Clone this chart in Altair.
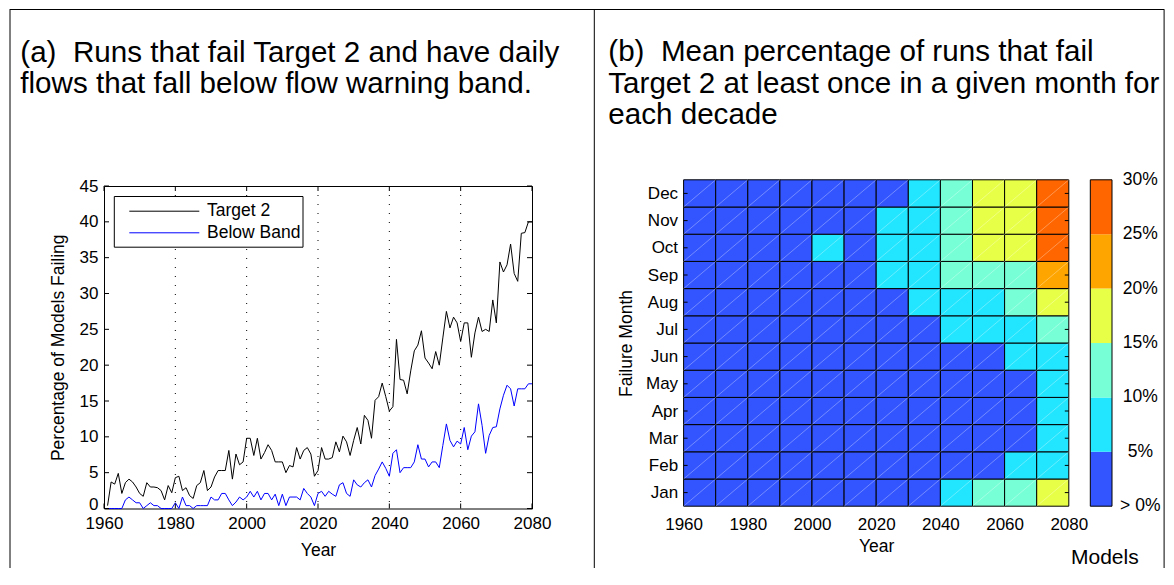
import json
import altair as alt
import pandas as pd

# ---------------- data ----------------
years = list(range(1961, 2081))
target2 = [
    0.4, 3.7, 3.4, 4.9, 2.1, 3.6, 4.1, 3.7, 3.0, 2.1,
    1.7, 3.6, 3.0, 3.0, 2.9, 2.5, 1.2, 3.2, 2.2, 4.3,
    4.5, 2.5, 2.9, 1.8, 1.4, 3.2, 3.6, 5.3, 2.5, 3.0,
    4.4, 5.3, 5.3, 5.3, 8.1, 4.1, 7.6, 6.1, 6.5, 9.8,
    9.8, 7.4, 9.8, 6.9, 7.8, 8.9, 8.1, 6.5, 6.5, 6.5,
    5.0, 6.0, 5.8, 8.5, 6.9, 8.1, 8.5, 7.6, 4.5, 5.3,
    8.5, 6.9, 6.9, 7.1, 9.3, 7.9, 10.1, 9.3, 7.4, 9.5,
    11.3, 9.0, 13.0, 12.3, 9.8, 15.1, 15.6, 17.5, 15.6, 13.6,
    14.2, 23.6, 18.0, 17.9, 16.0, 19.2, 22.0, 22.8, 24.8, 21.0,
    20.3, 19.5, 21.9, 20.0, 23.8, 27.5, 25.2, 26.7, 25.9, 23.3,
    25.9, 25.9, 21.1, 24.5, 26.7, 24.7, 25.0, 24.7, 29.1, 25.9,
    34.4, 33.0, 34.0, 36.9, 32.8, 31.7, 38.4, 38.5, 40.0, 40.0,
]
below_band = [
    0.0, 0.0, 0.0, 0.0, 0.0, 1.2, 1.6, 1.2, 0.8, 0.8,
    0.0, 0.4, 0.8, 0.4, 0.4, 0.0, 0.0, 0.0, 0.0, 0.8,
    0.0, 1.6, 0.4, 0.4, 0.0, 0.4, 0.4, 0.4, 0.4, 1.6,
    1.2, 1.2, 2.1, 2.1, 1.2, 0.4, 0.9, 1.6, 1.2, 1.6,
    2.4, 1.6, 2.4, 1.2, 2.1, 2.1, 1.2, 2.0, 0.4, 2.0,
    0.4, 1.6, 1.6, 1.6, 1.2, 2.8, 2.1, 1.6, 0.4, 2.1,
    2.4, 1.7, 2.4, 2.0, 1.7, 3.3, 3.6, 2.1, 1.7, 4.0,
    3.3, 3.0, 3.6, 4.0, 3.0, 4.6, 5.5, 6.5, 5.6, 4.5,
    7.7, 8.2, 5.0, 5.7, 5.7, 5.7, 6.5, 8.9, 6.9, 6.9,
    5.8, 6.5, 6.5, 5.7, 8.8, 11.8, 9.5, 8.6, 9.4, 9.0,
    11.3, 8.2, 10.1, 10.7, 14.6, 11.6, 7.7, 10.2, 11.3, 11.4,
    13.9, 15.8, 17.2, 16.7, 14.3, 16.7, 16.7, 16.7, 17.4, 17.4,
]
series_names = ["Target 2", "Below Band"]
series_colors = ["#000000", "#0000ff"]
year_ticks = [1960, 1980, 2000, 2020, 2040, 2060, 2080]
grid_years = [1980, 2000, 2020, 2040, 2060]
pct_ticks = [0, 5, 10, 15, 20, 25, 30, 35, 40, 45]

months = ["Jan", "Feb", "Mar", "Apr", "May", "Jun",
          "Jul", "Aug", "Sep", "Oct", "Nov", "Dec"]
decades = [1960, 1970, 1980, 1990, 2000, 2010, 2020, 2030, 2040, 2050, 2060, 2070]
jan = [0.5, 0.6, 0.8, 1.0, 1.5, 1.8, 2.5, 3.5, 6.5, 11.0, 12.5, 16.5]
feb = [0.3, 0.4, 0.5, 0.8, 1.0, 1.2, 1.5, 2.0, 3.0, 4.0, 6.0, 8.5]
mar = [0.2, 0.3, 0.4, 0.5, 0.7, 0.9, 1.2, 1.8, 2.5, 3.5, 4.5, 7.0]
apr = [0.2, 0.2, 0.3, 0.4, 0.6, 0.8, 1.0, 1.5, 2.2, 3.0, 4.2, 6.5]
may = [0.2, 0.3, 0.4, 0.5, 0.8, 1.0, 1.4, 2.0, 2.8, 3.8, 4.6, 7.5]
jun = [0.3, 0.4, 0.6, 0.9, 1.2, 1.6, 2.2, 3.0, 3.8, 4.6, 6.5, 9.0]
jul = [0.5, 0.7, 1.0, 1.4, 2.0, 2.6, 3.5, 4.5, 6.0, 7.5, 9.0, 11.5]
aug = [0.8, 1.0, 1.5, 2.0, 2.8, 3.5, 4.6, 6.0, 8.0, 9.5, 11.5, 16.0]
sep = [1.0, 1.3, 1.8, 2.5, 3.8, 4.2, 5.5, 8.0, 11.0, 12.5, 14.5, 21.5]
oct_ = [1.2, 1.6, 2.2, 3.0, 5.2, 4.5, 6.5, 9.0, 12.5, 16.0, 18.5, 26.0]
nov = [1.0, 1.4, 2.0, 2.8, 4.0, 4.4, 6.0, 8.5, 12.0, 15.5, 18.0, 26.5]
dec = [0.8, 1.2, 1.6, 2.2, 3.5, 4.0, 4.6, 7.0, 11.0, 15.5, 17.5, 27.0]
heat_rows = [jan, feb, mar, apr, may, jun, jul, aug, sep, oct_, nov, dec]

cbar_edges = [0, 5, 10, 15, 20, 25, 30]
cbar_labels = ["> 0%", "5%", "10%", "15%", "20%", "25%", "30%"]
cbar_colors = ["#3355ff", "#22e5ff", "#77ffd5", "#e8ff48", "#ffa500", "#ff6600"]

title_a = ["(a)\u00a0 Runs that fail Target 2 and have daily",
           "flows that fall below flow warning band."]
title_b = ["(b)\u00a0 Mean percentage of runs that fail",
           "Target 2 at least once in a given month for",
           "each decade"]

# ---------------- styling constants ----------------
FONT = "Liberation Sans"
TITLE_FS = 29.6
AX_FS = 17
W1, H1 = 428, 322.5
W2, H2 = 385.2, 320.2
R0, R1 = 320.2, -6.2
TOP = -176.5        # top frame line, relative to plot tops
BOT = 382           # bottom end of vertical frame lines
one = pd.DataFrame({"k": [0]})

# ---------------- left panel ----------------
df_lines = pd.DataFrame({
    "year": years + years,
    "pct": target2 + below_band,
    "series": [series_names[0]] * len(years) + [series_names[1]] * len(years),
})
xs = alt.Scale(domain=[year_ticks[0], year_ticks[-1]], nice=False, zero=False)
ys = alt.Scale(domain=[pct_ticks[0], pct_ticks[-1]], nice=False, zero=False)
x_axis = alt.Axis(values=year_ticks, format="d", tickSize=0, domain=False, grid=False,
                  labelFontSize=AX_FS, labelPadding=7, labelFlush=False, labelOverlap=False,
                  title="Year", titleFontSize=17.5, titlePadding=10)
y_axis = alt.Axis(values=pct_ticks, tickSize=0, domain=False, grid=False,
                  labelFontSize=AX_FS, labelPadding=6, labelOverlap=False,
                  labelOffset={"condition": {"test": "datum.value == 0", "value": -4},
                               "value": 0},
                  title="Percentage of Models Failing", titleFontSize=17.5, titlePadding=12)

lines = alt.Chart(df_lines).mark_line(strokeWidth=1).encode(
    x=alt.X("year:Q", scale=xs, axis=x_axis),
    y=alt.Y("pct:Q", scale=ys, axis=y_axis),
    color=alt.Color("series:N", scale=alt.Scale(domain=series_names, range=series_colors),
                    legend=None),
)

grid = alt.Chart(pd.DataFrame({"g": grid_years})).mark_rule(
    color="black", strokeDash=[1, 8], strokeWidth=1).encode(
    x=alt.X("g:Q", scale=xs, axis=x_axis), y=alt.value(0), y2=alt.value(H1))

yt_df = pd.DataFrame({"v": pct_ticks})
xt_df = pd.DataFrame({"t": year_ticks})
ytl = alt.Chart(yt_df).mark_rule(color="black").encode(
    y=alt.Y("v:Q", scale=ys, axis=y_axis), x=alt.value(0), x2=alt.value(5))
ytr = alt.Chart(yt_df).mark_rule(color="black").encode(
    y=alt.Y("v:Q", scale=ys, axis=y_axis), x=alt.value(W1 - 5), x2=alt.value(W1))
xtb = alt.Chart(xt_df).mark_rule(color="black").encode(
    x=alt.X("t:Q", scale=xs, axis=x_axis), y=alt.value(H1 - 5), y2=alt.value(H1))
xtt = alt.Chart(xt_df).mark_rule(color="black").encode(
    x=alt.X("t:Q", scale=xs, axis=x_axis), y=alt.value(0), y2=alt.value(5))

# legend (box, line samples, labels)
leg_box = alt.Chart(one).mark_rect(fill="white", stroke="black", strokeWidth=1).encode(
    x=alt.value(10.3), x2=alt.value(199), y=alt.value(10.5), y2=alt.value(61.2))
leg_items = []
for name, col, yy in zip(series_names, series_colors, [25.2, 46.8]):
    leg_items.append(alt.Chart(one).mark_rule(color=col, strokeWidth=1).encode(
        x=alt.value(25.3), x2=alt.value(95.3), y=alt.value(yy)))
    leg_items.append(alt.Chart(one).mark_text(text=name, align="left", baseline="middle",
                                              fontSize=17.5, color="black").encode(
        x=alt.value(103), y=alt.value(yy)))

frame_top = alt.Chart(one).mark_rule(color="black", strokeWidth=1).encode(
    x=alt.value(-94.3), x2=alt.value(1060.3), y=alt.value(TOP))
frame_left = alt.Chart(one).mark_rule(color="black", strokeWidth=1).encode(
    x=alt.value(-94), y=alt.value(TOP), y2=alt.value(BOT))

ta = [alt.Chart(one).mark_text(text=t, align="left", baseline="alphabetic",
                                fontSize=TITLE_FS, color="black").encode(
    x=alt.value(-83.7), y=alt.value(yy)) for t, yy in zip(title_a, [-124.5, -93.5])]

left = alt.layer(frame_top, frame_left, *ta, grid, lines, ytl, ytr, xtb, xtt,
                 leg_box, *leg_items).properties(
    width=W1, height=H1, view=alt.ViewBackground(stroke="black", strokeWidth=1))

# ---------------- right panel ----------------
hx = alt.Scale(domain=[year_ticks[0], year_ticks[-1]], nice=False, zero=False)
hy = alt.Scale(domain=[0.5, 12.5], range=[R0, R1], nice=False, zero=False)
cy = alt.Scale(domain=[cbar_edges[0], cbar_edges[-1]], range=[R0, R1], nice=False, zero=False)
cs = alt.Scale(type="threshold", domain=cbar_edges[1:-1], range=cbar_colors)

rows = []
for mi, m in enumerate(months):
    for di, d in enumerate(decades):
        rows.append({"month": m, "x0": d, "x1": d + 10,
                     "y0": mi + 0.5, "y1": mi + 1.5, "val": heat_rows[mi][di]})
df_heat = pd.DataFrame(rows)
label_expr = json.dumps(months) + "[datum.value - 1]"

hx_axis = alt.Axis(values=year_ticks, format="d", tickSize=0, domain=False, grid=False,
                   labelFontSize=AX_FS, labelPadding=10, labelFlush=False, labelOverlap=False,
                   title="Year", titleFontSize=17.5, titlePadding=5)
hy_axis = alt.Axis(values=list(range(1, 13)), labelExpr=label_expr, tickSize=0, domain=False,
                   grid=False, labelFontSize=AX_FS, labelPadding=6, labelOverlap=False,
                   title="Failure Month", titleFontSize=17.5, titlePadding=10)

rect = alt.Chart(df_heat).mark_rect(stroke="black", strokeWidth=1).encode(
    x=alt.X("x0:Q", scale=hx, axis=hx_axis), x2="x1:Q",
    y=alt.Y("y0:Q", scale=hy, axis=hy_axis), y2="y1:Q",
    color=alt.Color("val:Q", scale=cs, legend=None),
)
diag = alt.Chart(df_heat).mark_rule(color="white", strokeWidth=0.7, opacity=0.45).encode(
    x=alt.X("x0:Q", scale=hx, axis=hx_axis), x2="x1:Q",
    y=alt.Y("y0:Q", scale=hy, axis=hy_axis), y2="y1:Q")

m_df = pd.DataFrame({"mnum": list(range(1, 13))})
htl = alt.Chart(m_df).mark_rule(color="black").encode(
    y=alt.Y("mnum:Q", scale=hy, axis=hy_axis), x=alt.value(0), x2=alt.value(4))
htr = alt.Chart(m_df).mark_rule(color="black").encode(
    y=alt.Y("mnum:Q", scale=hy, axis=hy_axis), x=alt.value(W2 - 4), x2=alt.value(W2))

frame_div = alt.Chart(one).mark_rule(color="black", strokeWidth=1).encode(
    x=alt.value(-89.3), y=alt.value(TOP), y2=alt.value(BOT))
frame_right = alt.Chart(one).mark_rule(color="black", strokeWidth=1).encode(
    x=alt.value(480.5), y=alt.value(TOP), y2=alt.value(BOT))

tb = [alt.Chart(one).mark_text(text=t, align="left", baseline="alphabetic",
                                fontSize=TITLE_FS, color="black").encode(
    x=alt.value(-75.3), y=alt.value(yy)) for t, yy in zip(title_b, [-125, -93, -62])]

cb_df = pd.DataFrame({"lo": cbar_edges[:-1], "hi": cbar_edges[1:]})
cb_df["mid"] = (cb_df["lo"] + cb_df["hi"]) / 2
cbar = alt.Chart(cb_df).mark_rect().encode(
    x=alt.value(406.7), x2=alt.value(428.4),
    y=alt.Y("lo:Q", scale=cy, axis=None), y2="hi:Q",
    color=alt.Color("mid:Q", scale=cs, legend=None))
cbar_box = alt.Chart(pd.DataFrame({"lo": [cbar_edges[0]], "hi": [cbar_edges[-1]]})).mark_rect(
    fillOpacity=0, stroke="black", strokeWidth=1).encode(
    x=alt.value(406.7), x2=alt.value(428.4),
    y=alt.Y("lo:Q", scale=cy, axis=None), y2="hi:Q")
cbar_txt = alt.Chart(pd.DataFrame({"v": cbar_edges, "lab": cbar_labels})).mark_text(
    align="center", baseline="middle", fontSize=17.5, color="black").encode(
    x=alt.value(456.7), y=alt.Y("v:Q", scale=cy, axis=None), text="lab:N")
models = alt.Chart(one).mark_text(text="Models", align="center", baseline="middle",
                                  fontSize=21, color="black").encode(
    x=alt.value(421.2), y=alt.value(371.5))

heat_group = alt.layer(frame_div, frame_right, *tb, rect, diag, htl, htr)
cbar_group = alt.layer(cbar, cbar_box, cbar_txt, models)
right = alt.layer(heat_group, cbar_group).resolve_scale(y="independent").properties(
    width=W2, height=H2)

chart = alt.hconcat(left, right, spacing=151.6, bounds="flush").resolve_scale(
    color="independent").properties(
    padding={"left": 0, "top": 0, "right": 0, "bottom": 0}
).configure(font=FONT).configure_view(stroke=None).configure_axis(
    labelColor="black", titleColor="black", titleFontWeight="normal",
    labelFont=FONT, titleFont=FONT)

chart.save("out.html", embed_options={"renderer": "svg", "actions": False})
